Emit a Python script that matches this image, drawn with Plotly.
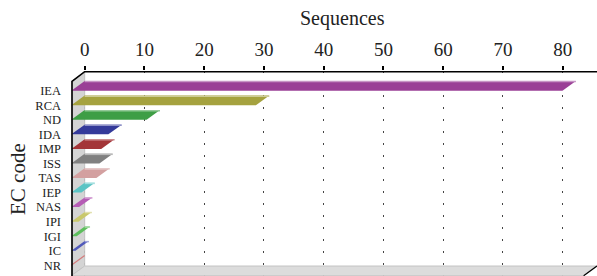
import plotly.graph_objects as go

# ---- data ----
categories = ["IEA", "RCA", "ND", "IDA", "IMP", "ISS", "TAS", "IEP", "NAS", "IPI", "IGI", "IC", "NR"]
sequences = [82.2, 30.9, 12.6, 6.2, 5.0, 4.7, 4.2, 1.7, 1.3, 1.2, 0.9, 0.7, 0.0]
bar_colors = ["#9A3F96", "#A5A23F", "#3E9E45", "#343A9A", "#A33538", "#808080",
              "#D3A0A0", "#5BC4C4", "#B55CB5", "#C9C86C", "#5DBE5D", "#5059BA", "#D47C7C"]
x_ticks = [0, 10, 20, 30, 40, 50, 60, 70, 80]

# ---- styling / pseudo-3D geometry ----
DX = 2.24      # depth offset in value units
DY = 0.667     # depth offset in row units
X_MIN, X_MAX = -2.29, 85.74
Y_TOP, Y_BOT = -1.354, 12.735
FLOOR = 12.05
FONT = "Liberation Serif, Times New Roman, serif"

def lighten(hexc, f=0.45):
    h = hexc.lstrip("#")
    r, g, b = int(h[0:2], 16), int(h[2:4], 16), int(h[4:6], 16)
    r = int(r + (255 - r) * f); g = int(g + (255 - g) * f); b = int(b + (255 - b) * f)
    return f"rgb({r},{g},{b})"

fig = go.Figure()

# left wall
top_line = Y_TOP + 0.05
fig.add_trace(go.Scatter(
    x=[-DX, 0, 0, -DX, -DX], y=[top_line + DY, top_line, FLOOR, FLOOR + DY, top_line + DY],
    fill="toself", fillcolor="#D4D4D4", line=dict(color="#C0C0C0", width=1),
    mode="lines", hoverinfo="skip", showlegend=False))
# floor
fig.add_trace(go.Scatter(
    x=[-DX, 0, X_MAX, X_MAX - DX, -DX], y=[FLOOR + DY, FLOOR, FLOOR, FLOOR + DY, FLOOR + DY],
    fill="toself", fillcolor="#DCDCDC", line=dict(color="#C4C4C4", width=1),
    mode="lines", hoverinfo="skip", showlegend=False))

# bars (flat parallelograms)
for i, (cat, v, c) in enumerate(zip(categories, sequences, bar_colors)):
    if v > 0:
        fig.add_trace(go.Scatter(
            x=[-DX, v - DX, v, 0, -DX], y=[i, i, i - DY, i - DY, i],
            fill="toself", fillcolor=c, line=dict(width=0), mode="lines",
            name=cat, hoverinfo="x+name", showlegend=False))
        fig.add_trace(go.Scatter(
            x=[0, v], y=[i - DY + 0.04, i - DY + 0.04], mode="lines",
            line=dict(color=lighten(c), width=1.5), hoverinfo="skip", showlegend=False))
    else:
        fig.add_trace(go.Scatter(
            x=[-DX, 0], y=[i, i - DY], mode="lines",
            line=dict(color=c, width=1.2), name=cat, hoverinfo="skip", showlegend=False))

# frame lines
fig.add_trace(go.Scatter(
    x=[-DX + 0.12, -DX + 0.12, 0, X_MAX], y=[Y_BOT, top_line + DY, top_line, top_line],
    mode="lines", line=dict(color="black", width=1.6), hoverinfo="skip", showlegend=False))
fig.add_trace(go.Scatter(
    x=[X_MAX - DX, X_MAX], y=[FLOOR + DY, FLOOR], mode="lines",
    line=dict(color="black", width=1.2), hoverinfo="skip", showlegend=False))

fig.update_layout(
    width=597, height=276,
    margin=dict(l=71, r=0, t=71, b=0, autoexpand=False),
    paper_bgcolor="white", plot_bgcolor="white",
    font=dict(family=FONT, color="#222"),
    xaxis=dict(
        side="top", range=[X_MIN, X_MAX], tickvals=x_ticks,
        ticktext=[str(t) for t in x_ticks],
        ticks="outside", ticklen=4, tickwidth=2, tickcolor="black",
        tickfont=dict(family=FONT, size=19, color="#222"),
        showline=False, zeroline=False, automargin=False,
        showgrid=True, gridcolor="#444", gridwidth=1, griddash="1.5px,10.5px",
        ticklabelstandoff=2,
    ),
    yaxis=dict(
        range=[Y_BOT, Y_TOP], tickvals=list(range(len(categories))), ticktext=categories,
        ticks="", showgrid=False, zeroline=False, showline=False, automargin=False,
        tickfont=dict(family=FONT, size=12.5, color="#222"),
        ticklabelstandoff=9,
    ),
    annotations=[
        dict(text="Sequences", xref="paper", yref="paper", x=(342 - 71) / 526, y=1 + (71 - 18) / 205,
             xanchor="center", yanchor="middle", showarrow=False,
             font=dict(family=FONT, size=20, color="#222")),
        dict(text="EC code", xref="paper", yref="paper", x=(18 - 71) / 526, y=(276 - 179) / 205,
             xanchor="center", yanchor="middle", textangle=-90, showarrow=False,
             font=dict(family=FONT, size=21, color="#222")),
    ],
)

fig.write_html("out.html", config={"displayModeBar": False},
               post_script="document.body.style.margin='0';document.body.style.padding='0';")
